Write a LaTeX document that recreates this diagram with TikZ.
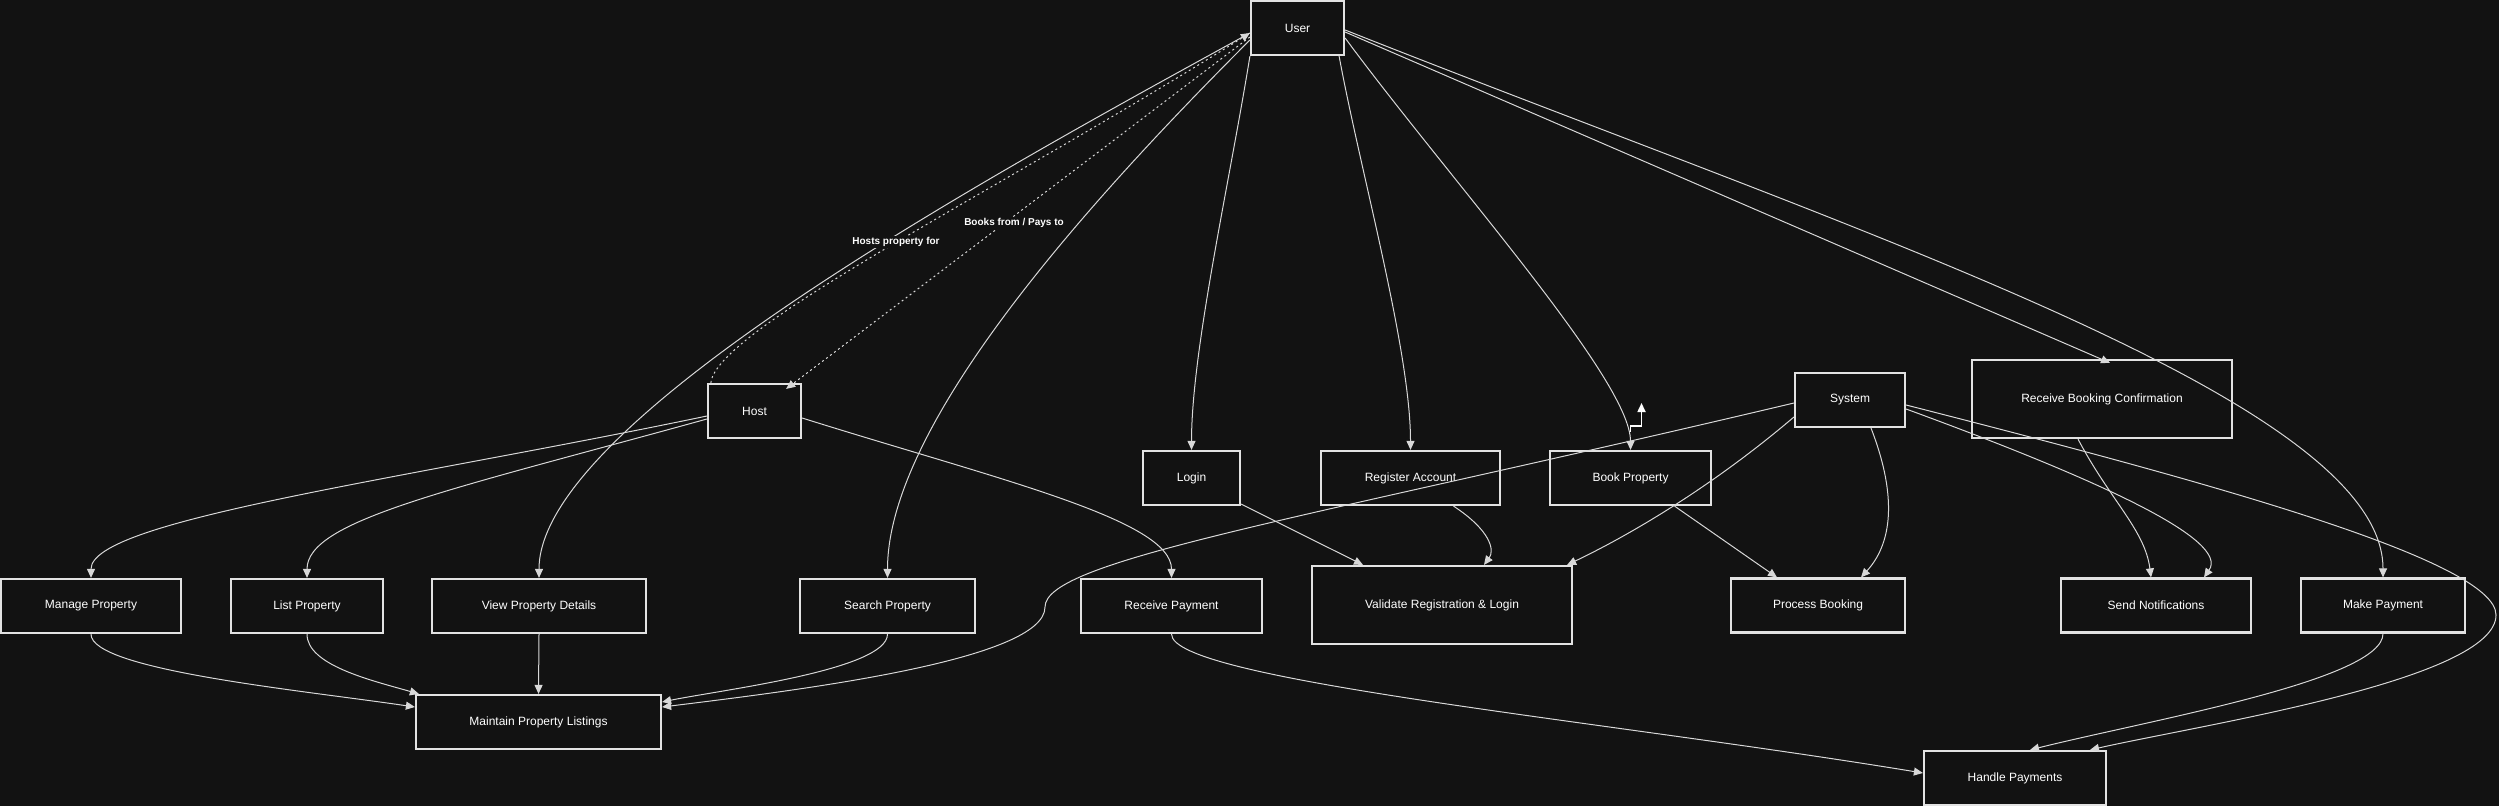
\documentclass[tikz,border=0pt]{standalone}
\usepackage{fontspec}
\setmainfont{Liberation Sans}
\usetikzlibrary{arrows.meta}
\definecolor{bg}{HTML}{121212}
\definecolor{edge}{HTML}{D8D8D8}
\definecolor{boxline}{HTML}{E2E2E2}
\tikzset{
  box/.style={draw=boxline, line width=2.2pt, fill=bg, text=white, font=\fontsize{12}{14}\selectfont, minimum height=54pt, inner sep=2pt},
  conn/.style={draw=edge, line width=1pt, -{Triangle[length=9pt,width=8pt]}},
  dotconn/.style={conn, dash pattern=on 2pt off 3pt},
  elabel/.style={fill=bg, text=white, font=\bfseries\fontsize{10}{12}\selectfont, inner sep=1.5pt},
  stubline/.style={draw=white, line width=1.6pt, -{Triangle[length=9pt,width=8pt]}}
}
\begin{document}
\begin{tikzpicture}[x=1pt,y=-1pt]
\fill[bg] (0,0) rectangle (2499,806);
\useasboundingbox (0,0) rectangle (2499,806);

% nodes
\node[box, minimum width=93pt] (user) at (1297.5,28) {User};
\node[box, minimum width=93pt] (host) at (754.5,411) {Host};
\node[box, minimum width=97pt] (login) at (1191.5,478) {Login};
\node[box, minimum width=179pt] (register) at (1410.5,478) {Register Account};
\node[box, minimum width=161pt] (book) at (1630.5,478) {Book Property};
\node[box, minimum width=110pt] (system) at (1850,400) {System};
\node[box, minimum width=260pt, minimum height=78pt] (rbc) at (2102,399) {Receive Booking Confirmation};
\node[box, minimum width=180pt] (manage) at (91,606) {Manage Property};
\node[box, minimum width=152pt] (list) at (307,606) {List Property};
\node[box, minimum width=214pt] (vpd) at (539,606) {View Property Details};
\node[box, minimum width=175pt] (search) at (887.5,606) {Search Property};
\node[box, minimum width=181pt] (recvpay) at (1171.5,606) {Receive Payment};
\node[box, minimum width=260pt, minimum height=78pt] (validate) at (1442,605) {Validate Registration \& Login};
\node[box, minimum width=174pt] (process) at (1818,605.5) {Process Booking};
\node[box, minimum width=190pt] (sendnot) at (2156,605.5) {Send Notifications};
\node[box, minimum width=164pt] (makepay) at (2383,605.5) {Make Payment};
\node[box, minimum width=245pt] (maintain) at (538.5,722) {Maintain Property Listings};
\node[box, minimum width=182pt] (handle) at (2015,778) {Handle Payments};

% User edges
\draw[conn] ([yshift=-5pt]user.west) .. controls (1000,170) and (539,420) .. (vpd.north);
\draw[conn] ([yshift=-12pt]user.west) .. controls (1100,190) and (887.5,420) .. (search.north);
\draw[dotconn] ([xshift=4pt]host.north west) .. controls (715,330) and (1000,190) .. ([yshift=-5pt]user.west);
\draw[dotconn] ([yshift=-9pt]user.west) -- ([xshift=-16pt,yshift=-6pt]host.north east);
\draw[conn] (user.south west) .. controls (1230,180) and (1191.5,350) .. (login.north);
\draw[conn] ([xshift=-6pt]user.south east) .. controls (1360,170) and (1410.5,350) .. (register.north);
\draw[conn] ([yshift=-10pt]user.east) .. controls (1450,180) and (1630.5,380) .. (book.north);
\draw[conn] ([yshift=-4pt]user.east) -- ([xshift=8pt,yshift=-4pt]rbc.north);
\draw[conn] ([yshift=-2pt]user.east) .. controls (1850,230) and (2383,400) .. (makepay.north);

% edge labels
\node[elabel] (lbhost) at (896,242) {Hosts property for};
\node[elabel] (lbbook) at (1014,223) {Books from / Pays to};

% Host edges
\draw[conn] ([yshift=-5pt]host.west) .. controls (400,480) and (91,520) .. (manage.north);
\draw[conn] ([yshift=-8pt]host.west) .. controls (450,490) and (307,520) .. (list.north);
\draw[conn] ([yshift=-7pt]host.east) .. controls (1000,480) and (1171.5,520) .. (recvpay.north);

% System edges
\draw[conn] ([yshift=-3pt]system.west) .. controls (1300,520) and (1045,560) .. (1045,607)
  .. controls (1045,660) and (800,690) .. ([yshift=15pt]maintain.east);
\draw[conn] ([yshift=-17pt]system.west) .. controls (1720,480) and (1640,530) .. ([xshift=-6pt]validate.north east);
\draw[conn] ([xshift=21pt]system.south) .. controls (1895,490) and (1895,540) .. ([xshift=43pt]process.north);
\draw[conn] ([yshift=-9pt]system.east) .. controls (2100,480) and (2230,540) .. ([xshift=48pt]sendnot.north);
\draw[conn] ([yshift=-5pt]system.east) .. controls (2200,480) and (2496,560) .. (2496,615)
  .. controls (2496,680) and (2200,725) .. ([xshift=75pt]handle.north);

% other edges
\draw[conn] ([xshift=-24pt]rbc.south) .. controls (2110,500) and (2145,530) .. ([xshift=-5pt]sendnot.north);
\draw[conn] ([xshift=44pt]book.south) -- ([xshift=-41pt]process.north);
\draw[conn] ([yshift=2pt]login.south east) -- ([xshift=-79pt]validate.north);
\draw[conn] ([xshift=43pt]register.south) .. controls (1490,530) and (1495,550) .. ([xshift=42pt]validate.north);
\draw[conn] (manage.south) .. controls (91,670) and (300,690) .. ([yshift=15pt]maintain.west);
\draw[conn] (list.south) .. controls (307,665) and (370,680) .. ([xshift=4pt]maintain.north west);
\draw[conn] (vpd.south) -- (maintain.north);
\draw[conn] (search.south) .. controls (887.5,670) and (720,690) .. ([yshift=20pt]maintain.east);
\draw[conn] (recvpay.south) .. controls (1171.5,680) and (1600,720) .. ([yshift=5pt]handle.west);
\draw[conn] (makepay.south) .. controls (2383,680) and (2150,720) .. ([xshift=15pt]handle.north);

% small stub above Book Property
\coordinate (stubend) at (1641.5,403);
\draw[stubline] ([yshift=18pt]book.north) -- ++(0,-6) -| (stubend);
\end{tikzpicture}
\end{document}
